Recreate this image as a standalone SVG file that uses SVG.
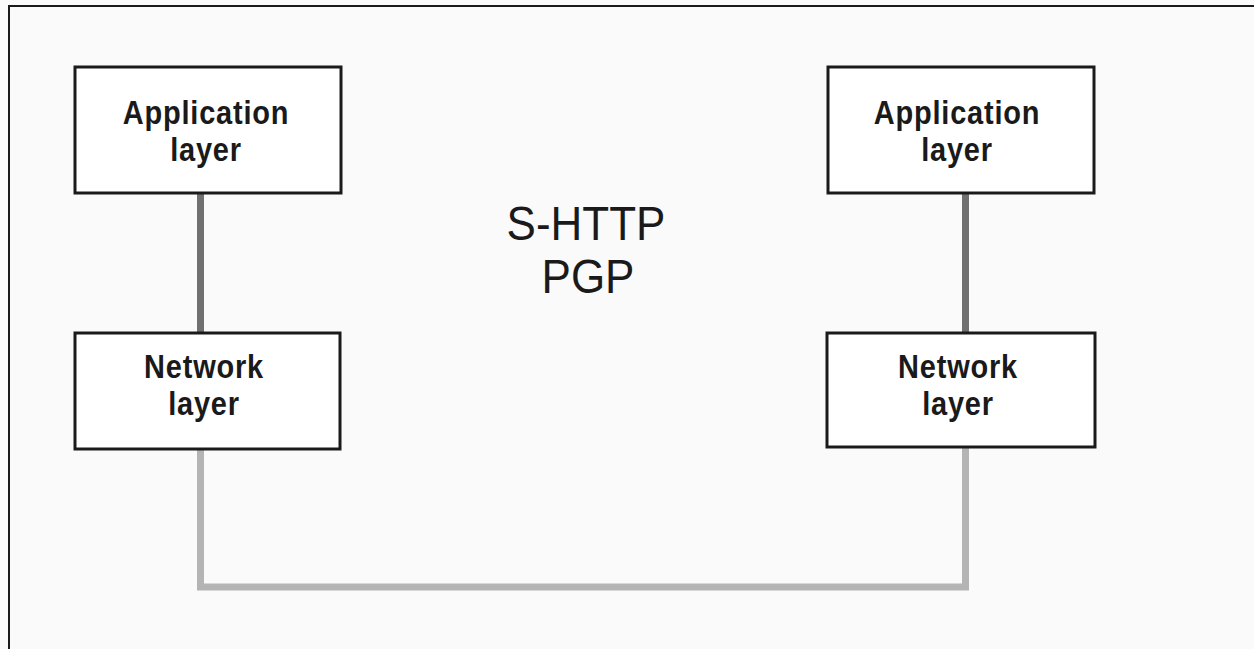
<svg xmlns="http://www.w3.org/2000/svg" width="1254" height="649" viewBox="0 0 1254 649">
  <style>
    .box { fill: #ffffff; stroke: #1a1a1a; stroke-width: 3; }
    .lbl { font-family: "Liberation Sans", Arial, sans-serif; font-weight: bold; font-size: 29px; letter-spacing: 0.8px; fill: #1a1a1a; text-anchor: middle; }
    .proto { font-family: "Liberation Sans", Arial, sans-serif; font-size: 44px; fill: #1a1a1a; text-anchor: middle; }
    .frame { stroke: #1a1a1a; stroke-width: 2; fill: none; }
    .link-upper { fill: #707070; }
    .link-lower { fill: none; stroke: #b4b4b4; stroke-width: 7; }
  </style>

  <rect width="1254" height="649" fill="#fafafa"/>
  <path class="frame" d="M9,649 V6 H1254"/>

  <g id="connectors">
    <rect class="link-upper" x="197" y="193" width="7" height="140"/>
    <rect class="link-upper" x="962" y="193" width="7" height="140"/>
    <path class="link-lower" d="M200.5,449 V587 H965.5 V447"/>
  </g>

  <g id="app-left">
    <rect class="box" x="75" y="67" width="266" height="126"/>
    <text class="lbl" transform="translate(206,124) scale(1,1.12)">Application</text>
    <text class="lbl" transform="translate(206,161) scale(1,1.12)">layer</text>
  </g>

  <g id="net-left">
    <rect class="box" x="75" y="333" width="265" height="116"/>
    <text class="lbl" transform="translate(204,378) scale(1,1.12)">Network</text>
    <text class="lbl" transform="translate(204,415) scale(1,1.12)">layer</text>
  </g>

  <g id="app-right">
    <rect class="box" x="828" y="67" width="266" height="126"/>
    <text class="lbl" transform="translate(957,124) scale(1,1.12)">Application</text>
    <text class="lbl" transform="translate(957,161) scale(1,1.12)">layer</text>
  </g>

  <g id="net-right">
    <rect class="box" x="827" y="333" width="268" height="114"/>
    <text class="lbl" transform="translate(958,378) scale(1,1.12)">Network</text>
    <text class="lbl" transform="translate(958,415) scale(1,1.12)">layer</text>
  </g>

  <g id="protocols">
    <text class="proto" transform="translate(586,240) scale(1,1.09)">S-HTTP</text>
    <text class="proto" transform="translate(588,293) scale(1,1.09)">PGP</text>
  </g>
</svg>
